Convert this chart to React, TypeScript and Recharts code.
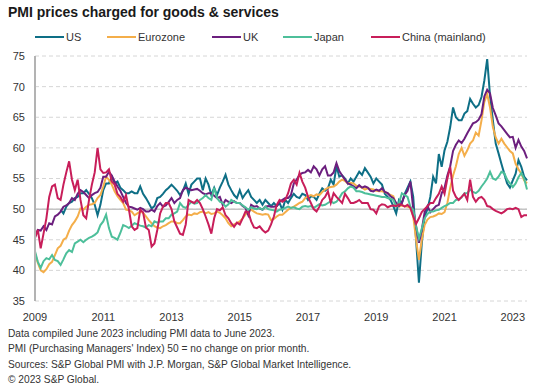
import React from "react";
import { LineChart, Line, XAxis, YAxis, CartesianGrid, ReferenceLine } from "recharts";

// Monthly, Jan 2009 .. Jun 2023
const startYear = 2009;
const monthCount = 174;

const xTicks = [0, 24, 48, 72, 96, 120, 144, 168];
const yTicks = [35, 40, 45, 50, 55, 60, 65, 70, 75];

const seriesNames = ["US", "Eurozone", "UK", "Japan", "China (mainland)"];
const seriesColors = ["#0e6f86", "#f4ae4a", "#6c1f7e", "#4dbf9a", "#c81e5a"];
const legendLeft = [35, 107, 212, 283, 371];

const us: (number | null)[] = [
  null, null, null, null, null, null, null, null, null, 49.9, 49.3, 50.4,
  51, 51.2, 51.8, 52, 52.6, 52.6, 53.1, 52.5, 51.8, 50.7, 49, 50.7,
  53.1, 54.2, 54.2, 55.3, 54.2, 54.5, 53.5, 53.1, 52.6, 52.6, 52.9, 52.6,
  52.6, 53.7, 52.5, 51.8, 51, 50.1, 50.5, 51.8, 52, 52.5, 53.1, 53.5,
  54, 53.5, 53, 52.3, 53, 54.2, 52.5, 54, 54.5, 55, 55, 53.1,
  55, 54, 52.3, 53.5, 52.3, 53.5, 54.5, 55.6, 54, 53.1, 52.3, 51.8,
  53.1, 51.8, 52.5, 53.1, 52, 51.5, 51, 51.5, 50.7, 51.5, 51, 50.5,
  51, 50.5, 51, 49.9, 51.5, 51, 51.8, 52.5, 52, 51.8, 52.5, 52.3,
  51.5, 52.1, 52, 51.5, 52.5, 53.4, 53, 53.4, 54.8, 54, 57, 55.3,
  55.5, 55, 54.2, 55, 54.5, 55.3, 56.1, 55.6, 56.7, 56, 55.3, 54.2,
  55, 54.5, 54, 52.5, 52, 51.5, 50.5, 49.3, 51.5, 51, 52.5, 53.5,
  54.5, 52, 45, 38, 44.4, 48.8, 50, 52, 55.3, 54.2, 59, 56.9,
  59.6, 61, 63.4, 66.6, 65, 64.5, 64.5, 65.6, 66, 68, 67.2, 66.6,
  67, 68.3, 71, 74.5, 68.5, 64.5, 60.7, 59.1, 57.4, 55.8, 54.2, 53.5,
  54.7, 55.8, 58, 56.9, 55.3, 54.7,
];

const eurozone: number[] = [
  42.8, 41.2, 40, 39.7, 40.2, 41, 41.4, 42.5, 43.6, 44, 45, 45.3,
  46.5, 47.4, 48, 48.8, 50.1, 49.9, 50.4, 50.7, 50.8, 51, 51.8, 52.3,
  53.7, 55.3, 54.8, 54, 52.9, 52.1, 51.5, 51, 49.9, 49.8, 49.6, 49,
  49.3, 49.6, 49.4, 48.8, 48.2, 47.7, 47.2, 47, 46.9, 47.2, 47.4, 47.7,
  48, 48, 47.7, 47.7, 48.2, 48.8, 49.1, 49, 49.3, 49.2, 49.5, 49.6,
  49.3, 49.5, 49.2, 49.3, 49.6, 49.4, 49, 48.5, 47.7, 47.2, 47.5, 47.7,
  48, 48.5, 49.1, 49.6, 49.9, 49.6, 49.3, 49.2, 49.1, 49.2, 49.1, 48.2,
  48.4, 48.8, 49.1, 49.1, 49.5, 49.9, 50.2, 50.4, 50.7, 51, 51.2, 51.8,
  52.1, 52.3, 52.1, 52.4, 52.3, 52.8, 53.2, 53.5, 53.6, 53.7, 54, 54.5,
  54.8, 54.6, 54.2, 54.3, 54.2, 53.8, 53.7, 53.5, 53.2, 53.4, 53.3, 53.2,
  53, 52.9, 52.9, 52.8, 52.6, 52.3, 52.1, 50.7, 50.4, 50.6, 50.5, 50.4,
  50.2, 48.8, 45, 41.7, 45, 47.4, 48.3, 48.7, 48.8, 49, 49.3, 49.2,
  49.5, 51, 53.5, 55.5, 57, 59, 60, 58.7, 59.6, 60.7, 61.2, 62.5,
  62, 64.5, 67.5, 68.8, 66.6, 63.4, 61.7, 60.7, 61.5, 60.7, 60.1, 59.5,
  59.1, 57.4, 56.5, 55.8, 54.7, 54.2,
];

const uk: number[] = [
  45.5, 46.6, 46.5, 47.2, 46.6, 47.7, 47.5, 48.8, 49.1, 49.6, 50.4, 50.6,
  51, 51.8, 51.5, 52.5, 53.1, 52.8, 52.3, 51.8, 52.3, 52.6, 52.8, 53.5,
  55.3, 55.3, 56.1, 55.5, 54.5, 53.7, 53, 52, 51, 50.4, 50.3, 50.1,
  49.9, 50.2, 50, 49.6, 49.6, 49.9, 49.6, 50.5, 51, 50.4, 50.6, 51.2,
  51.8, 51, 51.5, 51.8, 53.1, 53.5, 53.3, 53.1, 53.2, 53.3, 53, 52.6,
  52.4, 52.6, 52.6, 52.2, 51.8, 52, 50.7, 51.5, 51.2, 51, 51.3, 51,
  51, 50.5, 50.2, 49, 50.7, 50.4, 50.5, 50.1, 49.9, 50.4, 50.5, 50.4,
  50.4, 50.5, 51.2, 51.5, 51.8, 51.8, 52.3, 54.2, 54.8, 55.6, 55.9, 56,
  56.4, 56, 57, 56.5, 55.5, 56.5, 57, 55.5, 55.5, 56, 57.5, 56.2,
  55.5, 54.8, 54.2, 54, 53.7, 53.4, 53.9, 53.5, 53.7, 53.5, 53, 52.9,
  53.2, 53, 53.4, 52.8, 52.6, 52.1, 51.8, 51, 50.5, 51, 52.3, 53,
  54.5, 50, 47.2, 44.5, 46.6, 49.5, 50.5, 49.5, 50, 50.5, 50.7, 52.6,
  53.5, 55.5, 57, 59.5, 60.5, 61.2, 60.8, 61.5, 62.4, 63.2, 64, 64.2,
  64.6, 65.5, 68.4, 69.5, 68.9, 66.5, 65.3, 64, 63.5, 62.9, 62.3, 61.7,
  61.8, 60, 61.3, 60.2, 59.5, 58.3,
];

const japan: number[] = [
  43.1, 41.4, 40.4, 41.5, 42, 41.8, 42.5, 41.7, 41.5, 40.9, 41.8, 42.8,
  43.3, 43, 44.4, 44.7, 45, 44.6, 45, 45.3, 45.5, 45.8, 46.2, 47.4,
  48, 49.1, 46.9, 45.5, 45.3, 45, 46.1, 47.4, 47.2, 46.9, 47.3, 47.7,
  47.5, 47.3, 47.2, 47, 47.4, 47.2, 48, 47.8, 48, 48, 48.5, 48.5,
  49.1, 49.3, 49.6, 51, 50.4, 50.2, 50.7, 51.2, 50.9, 51, 51.5, 51.8,
  52.3, 51.8, 51.5, 53.5, 51.8, 51.2, 51, 50.4, 50.8, 51.5, 51.2, 51,
  51, 50.6, 50.3, 49.9, 50.3, 50.1, 50, 50.2, 49.9, 50.4, 50, 49.9,
  49.8, 49.6, 49.9, 50, 50.2, 50.4, 50.2, 50.3, 50.1, 50, 50.4, 50.5,
  50.4, 50.5, 50.2, 50.5, 50.8, 50.6, 50.7, 51, 51.3, 51, 51.2, 51.8,
  52.6, 52.9, 53.4, 53.7, 53.5, 52.9, 52.9, 52.8, 52.6, 52.5, 52.4, 52.3,
  52.2, 52.1, 52, 52, 51.8, 51.7, 51.5, 50.4, 51, 52.6, 52.3, 52,
  50.4, 49.9, 47.2, 45.2, 46.8, 48.5, 49.2, 49.6, 49.6, 49.8, 49.9, 50.2,
  50.5, 50.7, 51, 51, 51.5, 51.6, 51.9, 52.6, 52.6, 53.2, 52.8, 52.6,
  53, 53.7, 54.3, 55, 56.1, 55, 54.8, 55.3, 56.1, 55.9, 54.8, 54.2,
  53.6, 54.2, 55.2, 55.9, 55, 53.2,
];

const china: number[] = [
  45.3, 46.6, 43.6, 46, 48.5, 52, 53.7, 54, 51.8, 51.5, 54, 56,
  57.8, 54.8, 53.1, 54.8, 51.5, 49, 48.5, 51.5, 54, 56, 60, 56.5,
  55.9, 56, 56.5, 54.5, 54, 52.5, 52, 51.2, 52.3, 50, 47.2, 46.6,
  46.9, 49.9, 49.5, 47, 46.6, 43.9, 44.4, 46.6, 49.3, 50.4, 51, 51,
  50, 48, 47, 46, 45.8, 47.5, 51.5, 51.2, 51, 51.5, 51, 50,
  48.8, 47.5, 46, 48.5, 50, 49.8, 50.3, 49, 48.5, 47.7, 47.1, 47.8,
  47.5, 48.5, 49.6, 49.5, 48, 47, 46.9, 47.2, 46.6, 46.2, 46.5, 47.5,
  48.8, 50.7, 51.5, 51.2, 51.5, 52.6, 54.2, 54.8, 54, 55.9, 54.5, 53.5,
  52, 51, 50, 49.6, 50.4, 51.5, 52, 52.9, 51, 52.6, 52, 51.5,
  51, 52.5, 51.8, 51, 51, 51.2, 51.5, 51, 51, 51, 50, 49.9,
  49.3, 50.5, 50.8, 50.7, 50.3, 50.5, 50.6, 50.5, 50.8, 50.7, 50.4, 50.7,
  50.2, 48.8, 47.6, 48.5, 49.5, 50, 50.5, 51, 51, 51.8, 52.5, 53.7,
  52.5, 55, 56.9, 53, 52, 51.5, 52, 52.5, 51.5, 54.8, 52, 51.2,
  51.8, 52, 51.5, 50.5, 50.4, 50, 49.7, 49.5, 49.3, 49.6, 50, 50.1,
  50, 50.2, 50, 48.7, 49, 49,
];

const footerLines = [
  "Data compiled June 2023 including PMI data to June 2023.",
  "PMI (Purchasing Managers' Index) 50 = no change on prior month.",
  "Sources: S&P Global PMI with J.P. Morgan, S&P Global Market Intelligence.",
  "\u00A9 2023 S&P Global.",
];

const seriesKeys = ["us", "eurozone", "uk", "japan", "china"];
const seriesValues = [us, eurozone, uk, japan, china];

const data = Array.from({ length: monthCount }, (_, i) => {
  const row: Record<string, number | null> = { i };
  seriesKeys.forEach((k, s) => {
    const v = seriesValues[s][i];
    row[k] = v === undefined ? null : v;
  });
  return row;
});

const FONT = "Arial, 'Liberation Sans', Helvetica, sans-serif";

export default function App() {
  return (
    <div
      style={{
        position: "absolute",
        left: 0,
        top: 0,
        width: 543,
        height: 388,
        background: "#ffffff",
        fontFamily: FONT,
        overflow: "hidden",
      }}
    >
      <div
        style={{
          position: "absolute",
          left: 8,
          top: 5,
          fontSize: 14,
          lineHeight: "14px",
          fontWeight: "bold",
          color: "#1a1a1a",
          whiteSpace: "nowrap",
        }}
      >
        PMI prices charged for goods &amp; services
      </div>

      {seriesNames.map((name, idx) => (
        <div
          key={name}
          style={{
            position: "absolute",
            left: legendLeft[idx],
            top: 30,
            display: "flex",
            alignItems: "center",
            fontSize: 11,
            lineHeight: "14px",
            color: "#333",
            whiteSpace: "nowrap",
          }}
        >
          <div
            style={{
              width: 29,
              height: 2,
              background: seriesColors[idx],
              marginRight: 2,
            }}
          />
          <span>{name}</span>
        </div>
      ))}

      <div style={{ position: "absolute", left: 0, top: 0 }}>
        <LineChart
          width={543}
          height={330}
          data={data}
          margin={{ top: 56, right: 16, left: 0, bottom: 0 }}
        >
          <CartesianGrid
            vertical={false}
            stroke="#d6d6d6"
            strokeDasharray="4 3"
          />
          <XAxis
            type="number"
            dataKey="i"
            domain={[0, monthCount - 1]}
            ticks={xTicks}
            tickFormatter={(v: number) => String(startYear + Math.round(v / 12))}
            axisLine={false}
            tickLine={false}
            tickSize={0}
            tickMargin={12}
            height={29}
            interval={0}
            tick={{ fill: "#333", fontSize: 11, fontFamily: FONT }}
          />
          <YAxis
            domain={[35, 75]}
            ticks={yTicks}
            width={35}
            axisLine={{ stroke: "#b3b3b3", strokeWidth: 2 }}
            tickLine={false}
            tickSize={0}
            tickMargin={10}
            interval={0}
            tick={{ fill: "#333", fontSize: 11, fontFamily: FONT }}
          />
          <ReferenceLine y={50} stroke="#c4c4c4" strokeWidth={1.5} />
          {seriesKeys.map((k, idx) => (
            <Line
              key={k}
              type="linear"
              dataKey={k}
              stroke={seriesColors[idx]}
              strokeWidth={2}
              dot={false}
              isAnimationActive={false}
              connectNulls={false}
            />
          ))}
        </LineChart>
      </div>

      <div
        style={{
          position: "absolute",
          left: 8,
          top: 326,
          fontSize: 10.2,
          lineHeight: "15.3px",
          color: "#333",
          whiteSpace: "nowrap",
        }}
      >
        {footerLines.map((t) => (
          <div key={t}>{t}</div>
        ))}
      </div>
    </div>
  );
}
